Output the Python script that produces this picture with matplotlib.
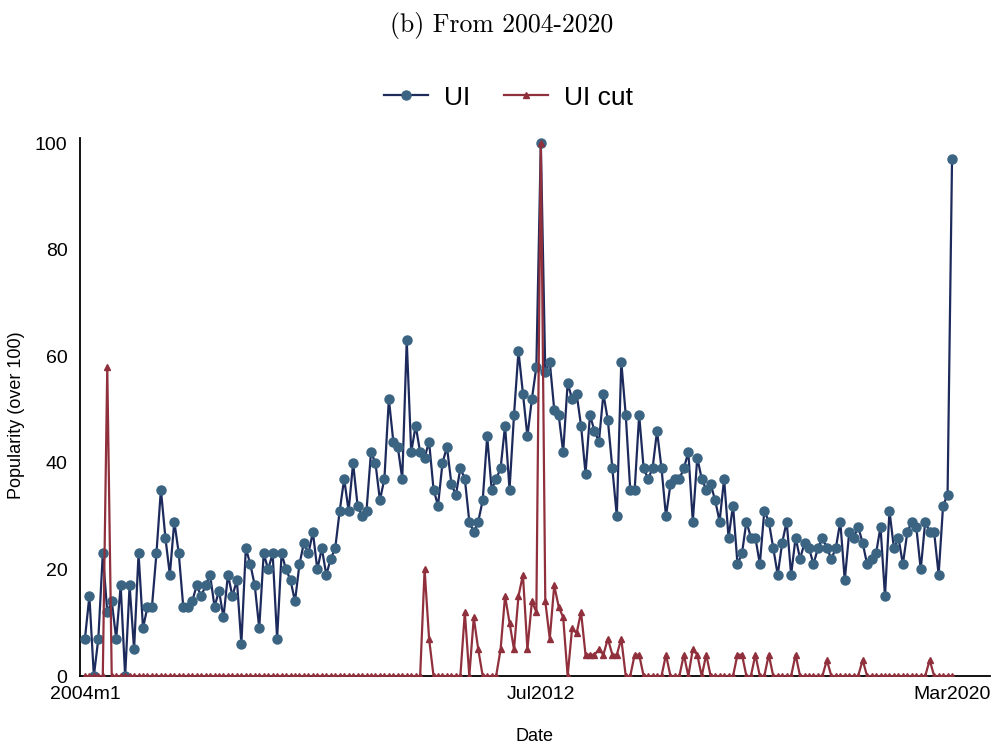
import numpy as np
import matplotlib.pyplot as plt

# monthly Google Trends popularity, 2004m1 - 2020m3 (one row per year)
ui = [7, 15, 0, 7, 23, 12, 14, 7, 17, 0, 17, 5,
      23, 9, 13, 13, 23, 35, 26, 19, 29, 23, 13, 13,
      14, 17, 15, 17, 19, 13, 16, 11, 19, 15, 18, 6,
      24, 21, 17, 9, 23, 20, 23, 7, 23, 20, 18, 14,
      21, 25, 23, 27, 20, 24, 19, 22, 24, 31, 37, 31,
      40, 32, 30, 31, 42, 40, 33, 37, 52, 44, 43, 37,
      63, 42, 47, 42, 41, 44, 35, 32, 40, 43, 36, 34,
      39, 37, 29, 27, 29, 33, 45, 35, 37, 39, 47, 35,
      49, 61, 53, 45, 52, 58, 100, 57, 59, 50, 49, 42,
      55, 52, 53, 47, 38, 49, 46, 44, 53, 48, 39, 30,
      59, 49, 35, 35, 49, 39, 37, 39, 46, 39, 30, 36,
      37, 37, 39, 42, 29, 41, 37, 35, 36, 33, 29, 37,
      26, 32, 21, 23, 29, 26, 26, 21, 31, 29, 24, 19,
      25, 29, 19, 26, 22, 25, 24, 21, 24, 26, 24, 22,
      24, 29, 18, 27, 26, 28, 25, 21, 22, 23, 28, 15,
      31, 24, 26, 21, 27, 29, 28, 20, 29, 27, 27, 19,
      32, 34, 97]

ui_cut = [0, 0, 0, 0, 0, 58, 0, 0, 0, 0, 0, 0,
          0, 0, 0, 0, 0, 0, 0, 0, 0, 0, 0, 0,
          0, 0, 0, 0, 0, 0, 0, 0, 0, 0, 0, 0,
          0, 0, 0, 0, 0, 0, 0, 0, 0, 0, 0, 0,
          0, 0, 0, 0, 0, 0, 0, 0, 0, 0, 0, 0,
          0, 0, 0, 0, 0, 0, 0, 0, 0, 0, 0, 0,
          0, 0, 0, 0, 20, 7, 0, 0, 0, 0, 0, 0,
          0, 12, 0, 11, 5, 0, 0, 0, 0, 5, 15, 10,
          5, 15, 19, 5, 14, 12, 100, 14, 7, 17, 13, 11,
          0, 9, 8, 12, 4, 4, 4, 5, 4, 7, 4, 4,
          7, 0, 0, 4, 4, 0, 0, 0, 0, 0, 4, 0,
          0, 0, 4, 0, 5, 4, 0, 4, 0, 0, 0, 0,
          0, 0, 4, 4, 0, 0, 4, 0, 0, 4, 0, 0,
          0, 0, 0, 4, 0, 0, 0, 0, 0, 0, 3, 0,
          0, 0, 0, 0, 0, 0, 3, 0, 0, 0, 0, 0,
          0, 0, 0, 0, 0, 0, 0, 0, 0, 3, 0, 0,
          0, 0, 0]

tick_pos = [0, 102, 194]
tick_labels = ['2004m1', 'Jul2012', 'Mar2020']

months = np.arange(len(ui))

plt.rcParams['font.family'] = ['Liberation Sans', 'DejaVu Sans']

fig = plt.figure(figsize=(9.95, 7.45), dpi=100)
ax = fig.add_axes([0.0804, 0.0926, 0.9146, 0.7222])

ax.plot(months, ui, color='#1d2b5c', lw=1.6, marker='o', ms=6.5,
        mfc='#3a6482', mec='#3a6482', label='UI', zorder=3)
ax.plot(months, ui_cut, color='#90303c', lw=1.6, marker='^', ms=5,
        mfc='#90303c', mec='#90303c', label='UI cut', zorder=4)

ax.set_xlim(-1.1, 202.5)
ax.set_ylim(0, 101)
ax.set_xticks(tick_pos)
ax.set_xticklabels(tick_labels)
ax.set_yticks([0, 20, 40, 60, 80, 100])
ax.tick_params(axis='both', length=0, labelsize=14, pad=7)
ax.tick_params(axis='y', pad=9)

for s in ['top', 'right']:
    ax.spines[s].set_visible(False)
for s in ['left', 'bottom']:
    ax.spines[s].set_linewidth(1.3)
ax.spines['bottom'].set_zorder(2)

# axis titles placed in figure coordinates
fig.text(0.537, 0.011, 'Date', ha='center', va='center', fontsize=13)
fig.text(0.008, 0.443, 'Popularity (over 100)', ha='left', va='center',
         rotation=90, fontsize=13)

fig.legend(loc='center', bbox_to_anchor=(0.511, 0.869), ncol=2, frameon=False,
           fontsize=19, handlelength=1.65, columnspacing=1.3, handletextpad=0.6)

fig.text(0.504, 0.966, '(b) From 2004-2020', ha='center', va='center',
         fontsize=18.5, family='cmr10')

plt.savefig('out.png', dpi=100)
